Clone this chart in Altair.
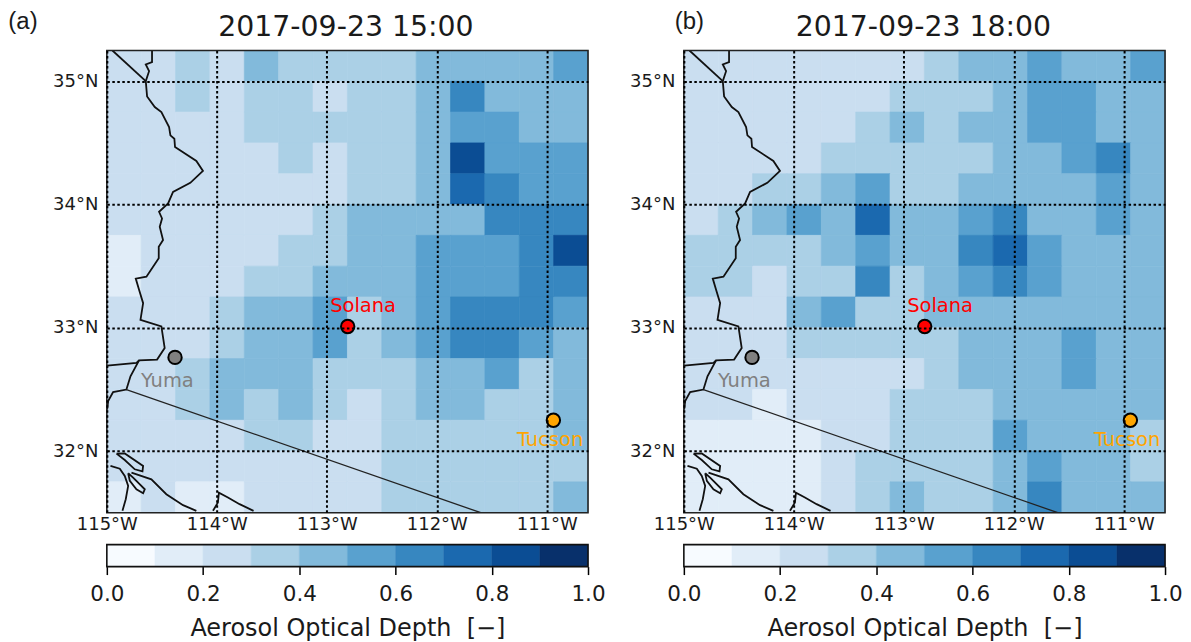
import altair as alt
import pandas as pd

# AOD colour-bin index (value in tenths) per cell, rows north to south, columns west to east
aod_a = [
    [2,2,3,2,4,3,3,3,3,4,4,4,4,5],
    [2,2,3,2,3,3,2,3,3,4,6,4,4,4],
    [2,2,2,2,3,3,3,3,3,4,5,5,4,4],
    [2,2,2,2,2,3,2,3,3,4,8,5,5,5],
    [2,2,2,2,2,2,2,3,3,4,7,6,5,5],
    [2,2,2,2,2,2,3,4,4,4,4,6,6,6],
    [1,2,2,2,2,3,3,4,4,5,5,5,6,8],
    [1,2,2,2,3,3,4,4,4,5,5,5,6,6],
    [2,2,2,3,4,4,5,3,4,5,6,6,6,5],
    [2,2,2,3,4,4,5,3,4,5,6,6,5,4],
    [2,2,3,4,4,4,3,3,3,4,4,5,3,4],
    [2,2,3,4,3,4,3,2,3,4,4,3,3,4],
    [2,2,2,2,3,3,2,2,3,3,3,3,3,4],
    [2,2,2,2,2,2,2,2,3,3,3,3,3,3],
    [1,2,1,1,2,2,2,2,3,3,3,3,3,4],
]
aod_b = [
    [2,2,2,2,2,2,2,3,4,4,5,4,4,5],
    [2,2,2,2,2,2,3,3,3,4,5,5,4,4],
    [2,2,2,2,2,3,4,3,4,4,5,5,4,4],
    [2,2,2,2,3,3,3,3,3,4,4,5,6,4],
    [2,2,3,3,4,5,3,3,4,4,4,4,5,4],
    [2,3,4,5,4,7,4,4,5,6,4,4,5,4],
    [3,3,3,3,4,5,4,4,6,7,5,4,4,4],
    [3,3,2,3,3,6,3,4,5,6,5,4,4,4],
    [2,2,2,4,5,3,3,4,4,4,4,4,4,4],
    [2,2,2,3,3,3,3,3,4,4,4,5,4,4],
    [2,2,2,2,2,2,2,3,4,4,4,5,4,4],
    [2,2,1,2,2,2,3,3,3,4,4,4,4,4],
    [1,1,1,1,2,2,3,3,3,5,4,4,4,3],
    [1,1,1,1,2,3,3,3,3,4,5,4,4,3],
    [1,1,1,1,2,3,4,3,3,4,6,4,4,4],
]

titles = ["2017-09-23 15:00", "2017-09-23 18:00"]
panel_tags = ["(a)", "(b)"]
colorbar_title = "Aerosol Optical Depth\u00a0\u00a0[\u2212]"

bin_edges = [0.1, 0.2, 0.3, 0.4, 0.5, 0.6, 0.7, 0.8, 0.9]
palette = ["#f7fbff", "#e1edf8", "#cadef0", "#abd0e6", "#82badb",
           "#59a1cf", "#3787c0", "#1b69af", "#0b4d94", "#08306b"]

LON_W, LON_E = -115.0, -110.625
LAT_S, LAT_N = 31.5, 35.25
D_LON, D_LAT = 0.3125, 0.25

site_names = ["Solana", "Yuma", "Tucson"]
site_lon = [-112.81, -114.38, -110.94]
site_lat = [33.01, 32.76, 32.25]
site_colors = ["#ff0000", "#808080", "#ffa500"]
label_lon = [-112.67, -114.45, -110.97]
label_lat = [33.18, 32.57, 32.09]

# Map outlines as (lon, lat) paths
river = [(-114.589,35.25),(-114.589,35.155),(-114.646,35.136),(-114.616,35.082),(-114.646,35.001),
         (-114.634,34.877),(-114.564,34.791),(-114.504,34.750),(-114.434,34.629),(-114.422,34.561),
         (-114.386,34.534),(-114.380,34.467),(-114.186,34.354),(-114.126,34.273),(-114.241,34.176),
         (-114.398,34.103),(-114.443,34.009),(-114.525,33.941),(-114.498,33.887),(-114.519,33.820),
         (-114.489,33.712),(-114.528,33.658),(-114.528,33.564),(-114.640,33.415),(-114.737,33.399),
         (-114.707,33.308),(-114.670,33.200),(-114.694,33.065),(-114.504,33.012),(-114.474,32.836),
         (-114.543,32.742),(-114.707,32.736),(-114.785,32.607),(-114.822,32.499),(-114.943,32.478),
         (-114.988,32.405),(-114.997,32.337)]
ca_border = [(-114.997,32.693),(-114.731,32.715),(-114.707,32.736)]
nv_border = [(-114.949,35.25),(-114.646,35.001)]
mx_border = [(-114.822,32.499),(-111.60,31.5)]
coast_1 = [(-114.967,31.879),(-114.882,31.857),(-114.837,31.798),(-114.806,31.717),(-114.828,31.609),(-114.858,31.515)]
coast_2 = [(-114.776,31.825),(-114.595,31.771),(-114.459,31.650),(-114.307,31.561),(-114.186,31.515)]
coast_3 = [(-114.035,31.515),(-113.990,31.582),(-113.981,31.663),(-113.899,31.623),(-113.793,31.569),(-113.666,31.515)]
island_1 = [(-114.912,31.979),(-114.837,31.981),(-114.670,31.879),(-114.676,31.836),(-114.746,31.852),(-114.837,31.927),(-114.912,31.979)]
island_2 = [(-114.806,31.820),(-114.761,31.784),(-114.655,31.690),(-114.670,31.658),(-114.731,31.690),(-114.791,31.758),(-114.806,31.820)]
heavy_paths = [river, ca_border, nv_border, coast_1, coast_2, coast_3, island_1, island_2]

TEXT = "#1a1a1a"
FONT = "DejaVu Sans"
color_scale = alt.Scale(type="threshold", domain=bin_edges, range=palette)


def path_frame(paths):
    rows = []
    for pid, path in enumerate(paths):
        for order, (lon, lat) in enumerate(path):
            rows.append({"pid": pid, "order": order, "lon": lon, "lat": lat})
    return pd.DataFrame(rows)


def cell_frame(grid):
    rows = []
    for r, row in enumerate(grid):
        for c, k in enumerate(row):
            rows.append({
                "lon": LON_W + c * D_LON, "lon1": LON_W + (c + 1) * D_LON,
                "lat1": LAT_N - r * D_LAT, "lat": LAT_N - (r + 1) * D_LAT,
                "aod": (k + 0.5) / 10,
            })
    return pd.DataFrame(rows)


def frame_layer(w, h, colour):
    return alt.Chart(pd.DataFrame({"f": [1]})).mark_rect(
        filled=False, stroke=colour, strokeWidth=1.6).encode(
        x=alt.value(0), x2=alt.value(w), y=alt.value(0), y2=alt.value(h))


def map_panel(grid, title, tag, tag_x, title_x):
    x_enc = alt.X("lon:Q", title=None, scale=alt.Scale(domain=[LON_W, LON_E], nice=False, zero=False),
                  axis=alt.Axis(values=[-115, -114, -113, -112, -111], title=None, grid=True,
                                gridColor="black", gridDash=[2.5, 2.5], gridWidth=2,
                                ticks=False, domain=False, zindex=1, labelFlush=False,
                                labelFontSize=18, labelFont=FONT, labelColor=TEXT, labelPadding=3,
                                labelExpr="abs(datum.value) + '°W'"))
    y_enc = alt.Y("lat:Q", title=None, scale=alt.Scale(domain=[LAT_S, LAT_N], nice=False, zero=False),
                  axis=alt.Axis(values=[32, 33, 34, 35], title=None, grid=True,
                                gridColor="black", gridDash=[2.5, 2.5], gridWidth=2,
                                ticks=False, domain=False, zindex=1,
                                labelFontSize=18, labelFont=FONT, labelColor=TEXT, labelPadding=9,
                                labelExpr="datum.value + '°N'"))

    cells = alt.Chart(cell_frame(grid)).mark_rect(strokeWidth=0.7).encode(
        x=x_enc,
        x2="lon1:Q",
        y=y_enc,
        y2="lat1:Q",
        color=alt.Color("aod:Q", scale=color_scale, legend=None),
        stroke=alt.Stroke("aod:Q", scale=color_scale, legend=None),
    )
    heavy = alt.Chart(path_frame(heavy_paths)).mark_line(color="#111111", strokeWidth=1.8, clip=True).encode(
        x="lon:Q", y="lat:Q", detail="pid:N", order="order:Q")
    thin = alt.Chart(path_frame([mx_border])).mark_line(color="#222222", strokeWidth=1.3, clip=True).encode(
        x="lon:Q", y="lat:Q", detail="pid:N", order="order:Q")

    sites = pd.DataFrame({"name": site_names, "lon": site_lon, "lat": site_lat, "c": site_colors,
                          "llon": label_lon, "llat": label_lat})
    points = alt.Chart(sites).mark_point(filled=True, size=180, opacity=1, stroke="black", strokeWidth=2).encode(
        x="lon:Q", y="lat:Q", fill=alt.Fill("c:N", scale=None))
    labels = alt.Chart(sites).mark_text(fontSize=19.5, font=FONT).encode(
        x=alt.X("llon:Q"), y=alt.Y("llat:Q"),
        text="name:N", color=alt.Color("c:N", scale=None))
    tag_mark = alt.Chart(pd.DataFrame({"t": [tag]})).mark_text(
        fontSize=24, font="Liberation Sans", color=TEXT).encode(
        x=alt.value(tag_x), y=alt.value(-29), text="t:N")
    title_mark = alt.Chart(pd.DataFrame({"t": [title]})).mark_text(
        fontSize=28.4, font=FONT, color=TEXT).encode(
        x=alt.value(title_x), y=alt.value(-23), text="t:N")

    return alt.layer(cells, heavy, thin, points, labels, tag_mark, title_mark,
                     frame_layer(482, 463, "#222222")).properties(
        width=482, height=463,
    )


def colorbar():
    edges = [i / 10 for i in range(11)]
    df = pd.DataFrame({"lo": edges[:-1], "hi": edges[1:], "v": [e + 0.05 for e in edges[:-1]]})
    bar = alt.Chart(df).mark_rect(strokeWidth=0.5).encode(
        x=alt.X("lo:Q", scale=alt.Scale(domain=[0, 1], nice=False),
                axis=alt.Axis(values=[0, 0.2, 0.4, 0.6, 0.8, 1.0], format=".1f", title=colorbar_title,
                              grid=False, tickSize=8, tickWidth=1.5, tickColor="black", domain=False,
                              labelFlush=False, labelFontSize=21.5, labelFont=FONT, labelColor=TEXT,
                              labelPadding=9, titleFontSize=24, titleFont=FONT, titleColor=TEXT,
                              titleFontWeight="normal", titlePadding=12)),
        x2="hi:Q",
        color=alt.Color("v:Q", scale=color_scale, legend=None),
        stroke=alt.Stroke("v:Q", scale=color_scale, legend=None),
    )
    return alt.layer(bar, frame_layer(482, 22, "#111111")).properties(width=482, height=22)


chart = alt.concat(
    map_panel(aod_a, titles[0], panel_tags[0], -84, 239.5),
    map_panel(aod_b, titles[1], panel_tags[1], 5.5, 240),
    colorbar(),
    colorbar(),
    columns=2,
).properties(
    bounds="flush",
    spacing={"row": 32, "column": 96},
    padding={"left": 0, "top": 1, "right": 0, "bottom": 0},
).configure_view(strokeWidth=0)

chart.save("out.html", embed_options={"renderer": "svg", "actions": False})
